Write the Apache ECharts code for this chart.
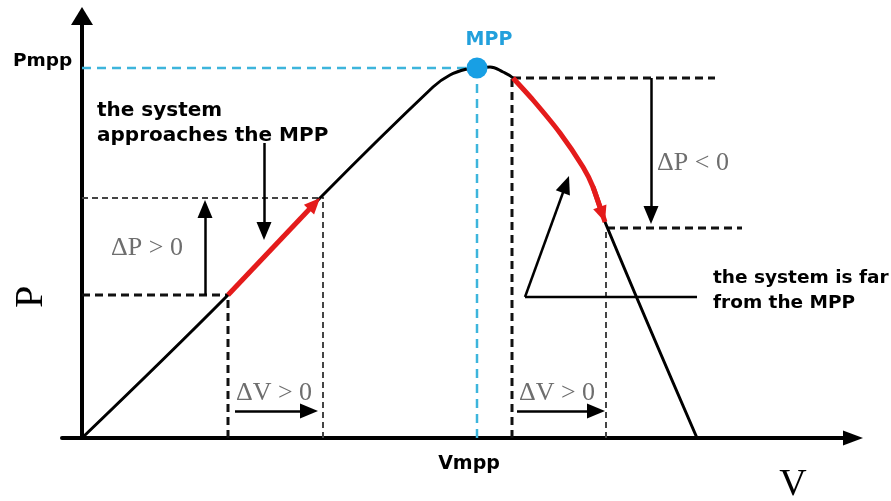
<!DOCTYPE html>
<html>
<head>
<meta charset="utf-8">
<style>
  html, body { margin: 0; padding: 0; background: #fff; }
  #chart { width: 891px; height: 501px; }
</style>
<script src="https://cdn.jsdelivr.net/npm/echarts@6/dist/echarts.min.js"></script>
</head>
<body>
<div id="chart"></div>
<script>
// P-V curve (black), V and P values
const curveV = [0, 14.6, 23.8, 35.1, 36.8, 38.5, 39.5, 40.8, 42.1, 43.1, 45.1, 47.8, 50.1, 51.1, 52.3, 61.5]
const curveP = [0, 14.3, 24.0, 35.1, 36.3, 36.9, 37.0, 37.1, 36.6, 36.0, 33.8, 30.5, 27.1, 25.1, 21.6, 0]

// red steps
const redUp = [[14.6, 14.3], [23.8, 24.0]]
const redDown = [[43.1, 36.0], [45.1, 33.8], [47.8, 30.5], [50.1, 27.1], [51.1, 25.1], [52.3, 21.6]]

// maximum power point
const mpp = [39.5, 37.0]

// dashed guides
const guideBlack = [
  [[0, 14.3], [14.6, 14.3]],
  [[14.6, 0], [14.6, 14.3]],
  [[43.0, 0], [43.0, 36.0]],
  [[43.1, 36.0], [63.3, 36.0]],
  [[52.5, 21.0], [66.0, 21.0]]
]
const guideGrey = [
  [[0, 24.0], [24.2, 24.0]],
  [[24.1, 0], [24.1, 24.0]],
  [[52.4, 0], [52.4, 21.0]]
]
const guideCyan = [
  [[0, 37.0], [39.5, 37.0]],
  [[39.5, 0], [39.5, 37.0]]
]

// solid arrows (start, tip)
const arrows = [
  [[12.3, 14.3], [12.3, 23.8]],
  [[18.2, 29.5], [18.2, 19.8]],
  [[56.9, 36.0], [56.9, 21.4]],
  [[15.3, 2.7], [23.6, 2.7]],
  [[43.5, 2.7], [52.3, 2.7]],
  [[44.3, 14.1], [48.7, 26.2]]
]
const plainLines = [
  [[44.3, 14.1], [61.5, 14.1]]
]

// pull the end back so the triangle tip lands on the point
function shorten(a, b, d) {
  const dx = b[0] - a[0], dy = b[1] - a[1]
  const len = Math.sqrt(dx * dx + dy * dy)
  return [b[0] - dx / len * d, b[1] - dy / len * d]
}

function segSeries(list, color, width, dash) {
  return list.map(pts => ({
    type: 'line',
    data: pts,
    symbol: 'none',
    silent: true,
    z: 3,
    lineStyle: { color: color, width: width, type: dash }
  }))
}

function arrowSeries(list, color, width, size, z) {
  return {
    type: 'scatter',
    data: list.map(p => p[0]),
    symbolSize: 0,
    silent: true,
    z: z,
    markLine: {
      silent: true,
      animation: false,
      symbol: ['none', 'triangle'],
      symbolSize: size,
      label: { show: false },
      emphasis: { disabled: true },
      lineStyle: { color: color, width: width, type: 'solid' },
      data: list.map(([a, b]) => [{ coord: a }, { coord: shorten(a, b, size[1] / 20) }])
    }
  }
}

const chart = echarts.init(document.getElementById('chart'))

const serif = '"Liberation Serif", "DejaVu Serif", serif'
const sans = '"DejaVu Sans", sans-serif'
const grey = '#6e6e6e'

chart.setOption({
  animation: false,
  grid: { left: 62, right: 38, top: 16, bottom: 63 },
  xAxis: {
    type: 'value', min: -2, max: 77.1,
    splitLine: { show: false }, axisTick: { show: false }, axisLabel: { show: false },
    axisLine: { symbol: ['none', 'triangle'], symbolSize: [15, 20], lineStyle: { color: '#000', width: 4 } }
  },
  yAxis: {
    type: 'value', min: 0, max: 42.2,
    splitLine: { show: false }, axisTick: { show: false }, axisLabel: { show: false },
    axisLine: { onZero: true, symbol: ['none', 'triangle'], symbolSize: [22, 18], lineStyle: { color: '#000', width: 4 } }
  },
  series: [
    ...segSeries(guideBlack, '#111', 3, [8, 5]),
    ...segSeries(guideGrey, '#444', 2, [6, 4]),
    ...segSeries(guideCyan, '#3db5dc', 2.5, [9, 6]),
    ...segSeries(plainLines, '#000', 2.5, 'solid'),
    {
      type: 'line',
      data: curveV.map((v, i) => [v, curveP[i]]),
      symbol: 'none',
      smooth: 0.4,
      silent: true,
      z: 4,
      lineStyle: { color: '#000', width: 3 }
    },
    {
      type: 'line',
      data: redDown,
      symbol: 'none',
      smooth: 0.2,
      silent: true,
      z: 5,
      lineStyle: { color: '#e41b1b', width: 5 }
    },
    arrowSeries(arrows, '#000', 2.5, [15, 18], 6),
    arrowSeries([redUp, redDown.slice(-2)], '#e41b1b', 5, [14, 16], 6),
    {
      type: 'scatter',
      data: [mpp],
      symbolSize: 21,
      silent: true,
      z: 8,
      itemStyle: { color: '#189fe4', opacity: 1 }
    }
  ],
  graphic: [
    { type: 'text', x: 13, y: 61, style: { text: 'Pmpp', fontFamily: sans, fontWeight: 'bold', fontSize: 18.5, fill: '#000', align: 'left', verticalAlign: 'middle' } },
    { type: 'text', x: 489, y: 40, style: { text: 'MPP', fontFamily: sans, fontWeight: 'bold', fontSize: 19, fill: '#22a0dc', align: 'center', verticalAlign: 'middle' } },
    { type: 'text', x: 469, y: 464, style: { text: 'Vmpp', fontFamily: sans, fontWeight: 'bold', fontSize: 19, fill: '#000', align: 'center', verticalAlign: 'middle' } },
    { type: 'text', x: 97, y: 98.5, style: { text: 'the system\napproaches the MPP', fontFamily: sans, fontWeight: 'bold', fontSize: 20, lineHeight: 25, fill: '#000', align: 'left', verticalAlign: 'top' } },
    { type: 'text', x: 713, y: 265.5, style: { text: 'the system is far\nfrom the MPP', fontFamily: sans, fontWeight: 'bold', fontSize: 18.5, lineHeight: 25, fill: '#000', align: 'left', verticalAlign: 'top' } },
    { type: 'text', x: 147, y: 248, style: { text: 'ΔP > 0', fontFamily: serif, fontSize: 26, fill: grey, align: 'center', verticalAlign: 'middle' } },
    { type: 'text', x: 693, y: 163, style: { text: 'ΔP < 0', fontFamily: serif, fontSize: 26, fill: grey, align: 'center', verticalAlign: 'middle' } },
    { type: 'text', x: 274, y: 393, style: { text: 'ΔV > 0', fontFamily: serif, fontSize: 26, fill: grey, align: 'center', verticalAlign: 'middle' } },
    { type: 'text', x: 557, y: 393, style: { text: 'ΔV > 0', fontFamily: serif, fontSize: 26, fill: grey, align: 'center', verticalAlign: 'middle' } },
    { type: 'text', x: 31, y: 297, rotation: Math.PI / 2, style: { text: 'P', fontFamily: serif, fontSize: 40, fill: '#000', align: 'center', verticalAlign: 'middle' } },
    { type: 'text', x: 793, y: 485, style: { text: 'V', fontFamily: serif, fontSize: 38, fill: '#000', align: 'center', verticalAlign: 'middle' } }
  ]
})
</script>
</body>
</html>
